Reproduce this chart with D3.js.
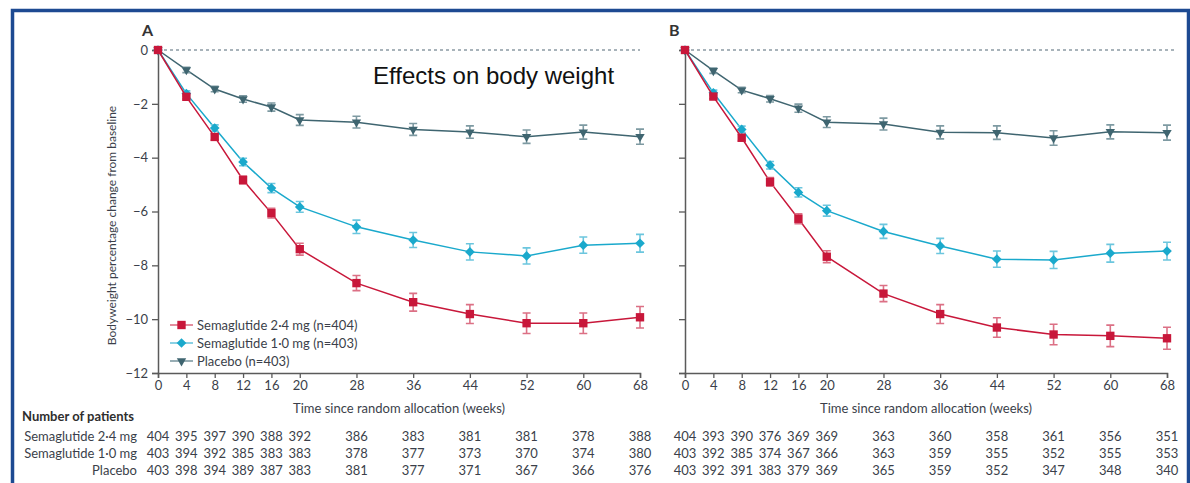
<!DOCTYPE html>
<html>
<head>
<meta charset="utf-8">
<script src="https://cdn.jsdelivr.net/npm/d3@7"></script>
<style>
  body { margin: 0; background: #fff; }
  svg { display: block; font-family: Lato, "Open Sans", sans-serif; }
</style>
</head>
<body>
<svg id="chart" width="1190" height="483"></svg>
<script>
// --- data ---
const weeks = [0, 4, 8, 12, 16, 20, 28, 36, 44, 52, 60, 68];
const seriesNames = ["Semaglutide 2·4 mg", "Semaglutide 1·0 mg", "Placebo"];
const legendLabels = ["Semaglutide 2·4 mg (n=404)", "Semaglutide 1·0 mg (n=403)", "Placebo (n=403)"];
const yTicks = [0, -2, -4, -6, -8, -10, -12];

// panel A, mean % change and half error bar
const semaHighA = [0, -1.74, -3.23, -4.83, -6.06, -7.40, -8.66, -9.37, -9.81, -10.15, -10.15, -9.93];
const semaLowA = [0, -1.62, -2.90, -4.16, -5.13, -5.83, -6.57, -7.06, -7.50, -7.65, -7.25, -7.18];
const placeboA = [0, -0.74, -1.45, -1.82, -2.12, -2.60, -2.68, -2.95, -3.05, -3.22, -3.05, -3.22];
const semaHighErrA = [0, 0.08, 0.12, 0.15, 0.18, 0.22, 0.28, 0.33, 0.35, 0.38, 0.38, 0.40];
const semaLowErrA = [0, 0.10, 0.12, 0.14, 0.17, 0.20, 0.25, 0.28, 0.30, 0.30, 0.30, 0.33];
const placeboErrA = [0, 0.10, 0.10, 0.12, 0.15, 0.20, 0.22, 0.22, 0.23, 0.25, 0.26, 0.28];

// panel B
const semaHighB = [0, -1.73, -3.26, -4.90, -6.27, -7.68, -9.05, -9.81, -10.31, -10.57, -10.62, -10.71];
const semaLowB = [0, -1.59, -2.95, -4.28, -5.29, -5.97, -6.74, -7.28, -7.77, -7.80, -7.55, -7.47];
const placeboB = [0, -0.77, -1.49, -1.81, -2.16, -2.68, -2.75, -3.06, -3.07, -3.27, -3.04, -3.07];
const semaHighErrB = [0, 0.08, 0.12, 0.16, 0.18, 0.22, 0.30, 0.35, 0.36, 0.38, 0.40, 0.41];
const semaLowErrB = [0, 0.10, 0.12, 0.14, 0.17, 0.20, 0.26, 0.28, 0.30, 0.32, 0.33, 0.33];
const placeboErrB = [0, 0.10, 0.10, 0.12, 0.15, 0.20, 0.22, 0.24, 0.25, 0.27, 0.26, 0.28];

// number of patients
const patientsA = [
  [404, 395, 397, 390, 388, 392, 386, 383, 381, 381, 378, 388],
  [403, 394, 392, 385, 383, 383, 378, 377, 373, 370, 374, 380],
  [403, 398, 394, 389, 387, 383, 381, 377, 371, 367, 366, 376]
];
const patientsB = [
  [404, 393, 390, 376, 369, 369, 363, 360, 358, 361, 356, 351],
  [403, 392, 385, 374, 367, 366, 363, 359, 355, 352, 355, 353],
  [403, 392, 391, 383, 379, 369, 365, 359, 352, 347, 348, 340]
];

// --- styling ---
const colors = ["#c8173a", "#1aa9cc", "#3f6570"];
const barColors = ["#dc7085", "#6cc6de", "#7e9aa2"];
const symbols = [d3.symbolSquare, d3.symbolDiamond2, d3.symbolTriangle];
const symbolSizes = [70, 60, 38];
const textColor = "#3b3f4a";
const axisColor = "#5a5a5a";

const CONFIG = {
  plotTop: 50,
  plotBottom: 373,
  plotWidth: 482,
  tableRows: [441, 458, 475]
};

const svg = d3.select("#chart");

// frame round the figure
svg.append("rect")
  .attr("x", 12.5).attr("y", 10.5)
  .attr("width", 1176).attr("height", 500)
  .attr("fill", "none")
  .attr("stroke", "#1d4a92")
  .attr("stroke-width", 3.5);

const y = d3.scaleLinear().domain([-12, 0]).range([CONFIG.plotBottom, CONFIG.plotTop]);

function marker(g, i, cx, cy) {
  const rot = i === 2 ? 180 : 0;
  g.append("path")
    .attr("d", d3.symbol(symbols[i], symbolSizes[i])())
    .attr("transform", `translate(${cx},${cy}) rotate(${rot})`)
    .attr("fill", colors[i]);
}

function drawPanel(left, letter, series, errors, patients, showLabels, dotEnd) {
  const x = d3.scaleLinear().domain([0, 68]).range([left, left + CONFIG.plotWidth]);
  const g = svg.append("g");

  g.append("text")
    .attr("x", left - 16).attr("y", 36)
    .attr("font-weight", 700).attr("font-size", 16)
    .attr("fill", "#333")
    .text(letter);

  // zero reference line
  g.append("line")
    .attr("x1", left).attr("x2", dotEnd)
    .attr("y1", y(0)).attr("y2", y(0))
    .attr("stroke", "#8c9aa4").attr("stroke-width", 1.5)
    .attr("stroke-dasharray", "3,3");

  const yAxis = g.append("g")
    .attr("transform", `translate(${left},0)`)
    .call(d3.axisLeft(y).tickValues(yTicks).tickSize(6).tickPadding(4)
      .tickFormat(d => showLabels ? (d < 0 ? "\u2212" + Math.abs(d) : d) : ""));
  const xAxis = g.append("g")
    .attr("transform", `translate(0,${CONFIG.plotBottom})`)
    .call(d3.axisBottom(x).tickValues(weeks).tickSize(5).tickPadding(3));
  [yAxis, xAxis].forEach(a => {
    a.select(".domain").attr("stroke", axisColor).attr("stroke-width", 1.5);
    a.selectAll(".tick line").attr("stroke", axisColor).attr("stroke-width", 1.3);
    a.selectAll(".tick text").attr("fill", textColor).attr("font-size", 13)
      .attr("font-family", "Lato, sans-serif");
  });

  g.append("text")
    .attr("x", x(34)).attr("y", 413)
    .attr("text-anchor", "middle")
    .attr("font-size", 13).attr("fill", textColor)
    .text("Time since random allocation (weeks)");

  // series, drawn placebo first so red sits on top
  [2, 1, 0].forEach(i => {
    const pts = weeks.map((w, k) => ({ w, v: series[i][k], e: errors[i][k] }));
    const sg = g.append("g");
    sg.append("path")
      .datum(pts)
      .attr("fill", "none")
      .attr("stroke", colors[i]).attr("stroke-width", 1.5)
      .attr("d", d3.line().x(d => x(d.w)).y(d => y(d.v)));
    pts.filter(d => d.e > 0).forEach(d => {
      const cx = x(d.w), y1 = y(d.v + d.e), y2 = y(d.v - d.e);
      sg.append("path")
        .attr("d", `M${cx},${y1}V${y2}M${cx - 4},${y1}H${cx + 4}M${cx - 4},${y2}H${cx + 4}`)
        .attr("stroke", barColors[i]).attr("stroke-width", 1.6).attr("fill", "none");
    });
    pts.forEach(d => marker(sg, i, x(d.w), y(d.v)));
  });

  // patient numbers under each week
  patients.forEach((row, r) => {
    g.append("g").selectAll("text")
      .data(row)
      .join("text")
      .attr("x", (d, k) => x(weeks[k]))
      .attr("y", CONFIG.tableRows[r])
      .attr("text-anchor", "middle")
      .attr("font-size", 13).attr("fill", textColor)
      .text(d => d);
  });
  return x;
}

drawPanel(158, "A", [semaHighA, semaLowA, placeboA], [semaHighErrA, semaLowErrA, placeboErrA], patientsA, true, 640);
drawPanel(685, "B", [semaHighB, semaLowB, placeboB], [semaHighErrB, semaLowErrB, placeboErrB], patientsB, false, 1175);

// y axis title
svg.append("text")
  .attr("transform", `translate(116,${(CONFIG.plotTop + CONFIG.plotBottom) / 2 + 14}) rotate(-90)`)
  .attr("text-anchor", "middle")
  .attr("font-size", 12).attr("fill", textColor)
  .text("Bodyweight percentage change from baseline");

// legend in panel A
const legend = svg.append("g");
legendLabels.forEach((label, i) => {
  const ly = 325 + i * 18;
  legend.append("line")
    .attr("x1", 170).attr("x2", 193).attr("y1", ly).attr("y2", ly)
    .attr("stroke", barColors[i]).attr("stroke-width", 1.6);
  marker(legend, i, 181.5, ly);
  legend.append("text")
    .attr("x", 197).attr("y", ly + 4.5)
    .attr("font-size", 13).attr("fill", textColor)
    .text(label);
});

// table heading and row labels
svg.append("text")
  .attr("x", 22).attr("y", 421)
  .attr("font-weight", 700).attr("font-size", 13).attr("fill", "#2e2e2e")
  .text("Number of patients");
seriesNames.forEach((name, i) => {
  svg.append("text")
    .attr("x", 137).attr("y", CONFIG.tableRows[i])
    .attr("text-anchor", "end")
    .attr("font-size", 13).attr("fill", textColor)
    .text(name);
});

// overlay title
svg.append("text")
  .attr("x", 373).attr("y", 84)
  .attr("font-family", "'Liberation Sans', Arial, sans-serif")
  .attr("font-size", 24).attr("fill", "#111")
  .text("Effects on body weight");
</script>
</body>
</html>
